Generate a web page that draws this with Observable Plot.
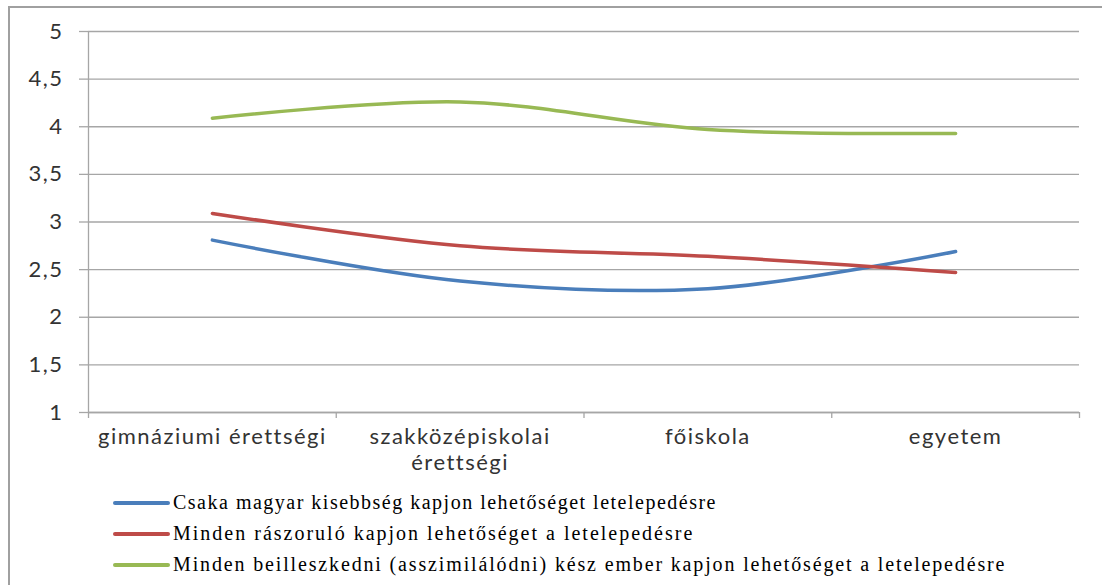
<!DOCTYPE html>
<html>
<head>
<meta charset="utf-8">
<script src="https://cdn.jsdelivr.net/npm/d3@7"></script>
<script src="https://cdn.jsdelivr.net/npm/@observablehq/plot@0.6"></script>
<style>
  body { margin: 0; overflow: hidden; background: #fff; }
  #wrap { position: relative; width: 1102px; height: 585px; overflow: hidden; }
  #frame { position: absolute; left: 8px; top: 6px; width: 1300px; height: 800px; border: 2px solid #a0a0a0; }
  #chart { position: absolute; left: 0; top: 0; }
  #chart svg text { letter-spacing: 1.5px; }
  #legend { position: absolute; left: 113px; top: 487px; font-family: "Liberation Serif", serif; font-size: 20px; color: #000; }
  .row { display: flex; align-items: center; height: 31px; white-space: nowrap; }
  .sw { width: 57px; height: 4px; border-radius: 2px; margin-right: 3px; flex: none; }
</style>
</head>
<body>
<div id="wrap">
  <div id="frame"></div>
  <div id="chart"></div>
  <div id="legend"></div>
</div>
<script>
const categories = ["gimnáziumi érettségi", "szakközépiskolai érettségi", "főiskola", "egyetem"];
const categoryLabels = ["gimnáziumi érettségi", "szakközépiskolai\nérettségi", "főiskola", "egyetem"];
const seriesNames = [
  "Csaka magyar kisebbség kapjon lehetőséget letelepedésre",
  "Minden rászoruló kapjon lehetőséget a letelepedésre",
  "Minden beilleszkedni (asszimilálódni) kész ember kapjon lehetőséget a letelepedésre"
];
const blueValues = [2.81, 2.38, 2.30, 2.69];
const redValues = [3.09, 2.75, 2.64, 2.47];
const greenValues = [4.09, 4.26, 3.97, 3.93];
const seriesColors = ["#4A7EBB", "#BE4B48", "#98B954"];
const legendSpacing = ["1.5px", "2px", "1.85px"];
const yTicks = [1, 1.5, 2, 2.5, 3, 3.5, 4, 4.5, 5];

const seriesValues = [blueValues, redValues, greenValues];
const rows = [];
seriesNames.forEach((name, s) => {
  seriesValues[s].forEach((v, i) => rows.push({series: name, idx: i, value: v}));
});
const centers = categories.map((c, i) => i + 0.5);
const bounds = d3.range(categories.length + 1);
const gridColor = "#a6a6a6";

const chart = Plot.plot({
  width: 1102,
  height: 480,
  marginLeft: 88,
  marginRight: 23,
  marginTop: 31,
  marginBottom: 68,
  style: { fontFamily: "Lato, sans-serif", fontSize: "22px", color: "#333", background: "transparent" },
  x: { type: "linear", domain: [0, categories.length] },
  y: { domain: [1, 5] },
  color: { domain: seriesNames, range: seriesColors },
  marks: [
    Plot.gridY(yTicks, { stroke: gridColor, strokeOpacity: 1, strokeWidth: 1.3 }),
    Plot.axisY(yTicks, { tickSize: 9, tickPadding: 16, stroke: gridColor, strokeWidth: 1.3, fontSize: 22,
      tickFormat: d => String(d).replace(".", ","), label: null }),
    Plot.ruleX([0], { stroke: gridColor, strokeWidth: 1.3 }),
    Plot.ruleY([1], { stroke: gridColor, strokeWidth: 1.3 }),
    Plot.axisX(bounds, { tickSize: 6, stroke: gridColor, strokeWidth: 1.3, tickFormat: () => "", label: null }),
    Plot.axisX(centers, { tickSize: 0, tickPadding: 14, label: null, fontSize: 22, lineHeight: 1.15,
      tickFormat: v => categoryLabels[Math.round(v - 0.5)] }),
    Plot.line(rows, { x: d => d.idx + 0.5, y: "value", z: "series", stroke: "series",
      curve: "catmull-rom", strokeWidth: 3.5, strokeLinecap: "round" })
  ]
});
document.getElementById("chart").appendChild(chart);

const legend = document.getElementById("legend");
seriesNames.forEach((name, s) => {
  const row = document.createElement("div");
  row.className = "row";
  const sw = document.createElement("span");
  sw.className = "sw";
  sw.style.background = seriesColors[s];
  const t = document.createElement("span");
  t.textContent = name;
  t.style.letterSpacing = legendSpacing[s];
  row.appendChild(sw);
  row.appendChild(t);
  legend.appendChild(row);
});
</script>
</body>
</html>
